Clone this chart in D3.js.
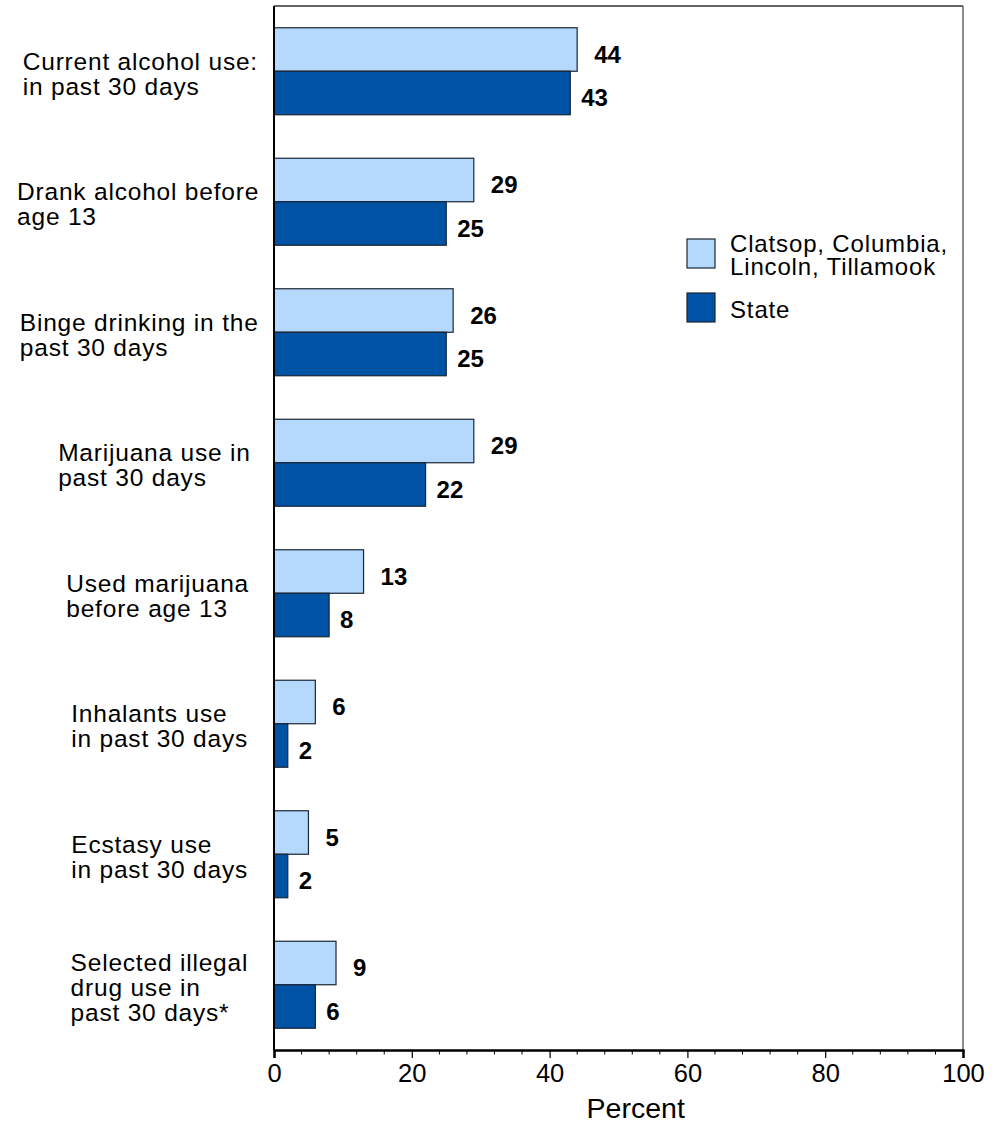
<!DOCTYPE html>
<html>
<head>
<meta charset="utf-8">
<script src="https://cdn.jsdelivr.net/npm/d3@7"></script>
<style>
  html, body { margin: 0; padding: 0; background: #fff; }
  svg { display: block; font-family: "Liberation Sans", Arial, Helvetica, sans-serif; }
</style>
</head>
<body>
<svg id="chart" width="995" height="1125"></svg>
<script>
// ---- data ----
const categories = [
  ["Current alcohol use:", "in past 30 days"],
  ["Drank alcohol before", "age 13"],
  ["Binge drinking in the", "past 30 days"],
  ["Marijuana use in", "past 30 days"],
  ["Used marijuana", "before age 13"],
  ["Inhalants use", "in past 30 days"],
  ["Ecstasy use", "in past 30 days"],
  ["Selected illegal", "drug use in", "past 30 days*"]
];
const regionValues = [44, 29, 26, 29, 13, 6, 5, 9];
const stateValues  = [43, 25, 25, 22, 8, 2, 2, 6];
const seriesNames  = [["Clatsop, Columbia,", "Lincoln, Tillamook"], ["State"]];
const xTicks = [0, 20, 40, 60, 80, 100];
const xTitle = "Percent";

(function () {
// ---- layout ----
const svg = d3.select("#chart");
const pL = 274, pR = 963, pT = 6, pB = 1050;
const lightFill = "#b5d9fd", darkFill = "#0052a5", barStroke = "#1b2533";

const x = d3.scaleLinear().domain([0, 100]).range([pL, pR]);
const y = d3.scaleBand().domain(d3.range(categories.length))
  .range([pT, pB]).paddingInner(1/3).paddingOuter(1/6);
const sub = d3.scaleBand().domain([0, 1]).range([0, y.bandwidth()]);

// frame: top and right
svg.append("line").attr("x1", pL).attr("x2", pR).attr("y1", pT).attr("y2", pT)
  .attr("stroke", "#333").attr("stroke-width", 1.5);
svg.append("line").attr("x1", pR).attr("x2", pR).attr("y1", pT).attr("y2", pB)
  .attr("stroke", "#666").attr("stroke-width", 1.5);

// bars
const series = [regionValues, stateValues];
const fills = [lightFill, darkFill];
const labelGap = [17, 11];
series.forEach((vals, s) => {
  svg.append("g").selectAll("rect").data(vals).join("rect")
    .attr("x", x(0))
    .attr("y", (d, i) => y(i) + sub(s))
    .attr("width", d => x(d) - x(0))
    .attr("height", sub.bandwidth())
    .attr("fill", fills[s])
    .attr("stroke", barStroke).attr("stroke-width", 1.2);
  svg.append("g").selectAll("text").data(vals).join("text")
    .attr("x", d => x(d) + labelGap[s])
    .attr("y", (d, i) => y(i) + sub(s) + sub.bandwidth() / 2 + 13)
    .attr("font-size", 24).attr("font-weight", "bold").attr("fill", "#000")
    .text(d => d);
});

// category labels (left-aligned blocks)
const lh = 25;
categories.forEach((lines, i) => {
  const cy = y(i) + y.bandwidth() / 2;
  const t = svg.append("text").attr("font-size", 24.5).attr("letter-spacing", 0.8).attr("fill", "#000");
  const first = cy - (lines.length - 1) / 2 * lh + 11;
  lines.forEach((ln, k) => {
    t.append("tspan").attr("x", 0).attr("y", first + k * lh).text(ln);
  });
  const w = d3.max(t.selectAll("tspan").nodes(), n => n.getComputedTextLength());
  t.selectAll("tspan").attr("x", 218 - 0.83 * w);
});

// x axis
const minor = d3.range(0, 101, 4).filter(v => v % 20 !== 0);
svg.append("g").selectAll("line").data(minor).join("line")
  .attr("x1", d => x(d)).attr("x2", d => x(d)).attr("y1", pB).attr("y2", pB + 4.5)
  .attr("stroke", "#000").attr("stroke-width", 1);
const axis = d3.axisBottom(x).tickValues(xTicks).tickSize(8).tickPadding(6).tickFormat(d3.format("d"));
const ga = svg.append("g").attr("transform", `translate(0,${pB})`).call(axis);
ga.select(".domain").attr("stroke", "#000").attr("stroke-width", 2.5);
ga.selectAll(".tick line").attr("stroke", "#000").attr("stroke-width", 1.2);
ga.selectAll(".tick text").attr("font-size", 25.5).attr("fill", "#000")
  .attr("font-family", "'Liberation Sans', Arial, sans-serif");

// y axis line
svg.append("line").attr("x1", pL).attr("x2", pL).attr("y1", pT).attr("y2", pB)
  .attr("stroke", "#000").attr("stroke-width", 2);

svg.append("text").attr("x", x(52.5)).attr("y", 1118).attr("text-anchor", "middle")
  .attr("font-size", 28.5).attr("fill", "#000").text(xTitle);

// legend
const lg = svg.append("g");
const legY = [239, 293];
seriesNames.forEach((names, s) => {
  lg.append("rect").attr("x", 687).attr("y", legY[s]).attr("width", 28).attr("height", 29)
    .attr("fill", fills[s]).attr("stroke", barStroke).attr("stroke-width", 1.2);
  const t = lg.append("text").attr("font-size", 24).attr("letter-spacing", 0.85).attr("fill", "#000");
  if (names.length === 1) {
    t.append("tspan").attr("x", 730).attr("y", legY[s] + 25).text(names[0]);
  } else {
    names.forEach((n, k) => t.append("tspan").attr("x", 730).attr("y", legY[s] + 13 + k * 23).text(n));
  }
});
})();
</script>
</body>
</html>
